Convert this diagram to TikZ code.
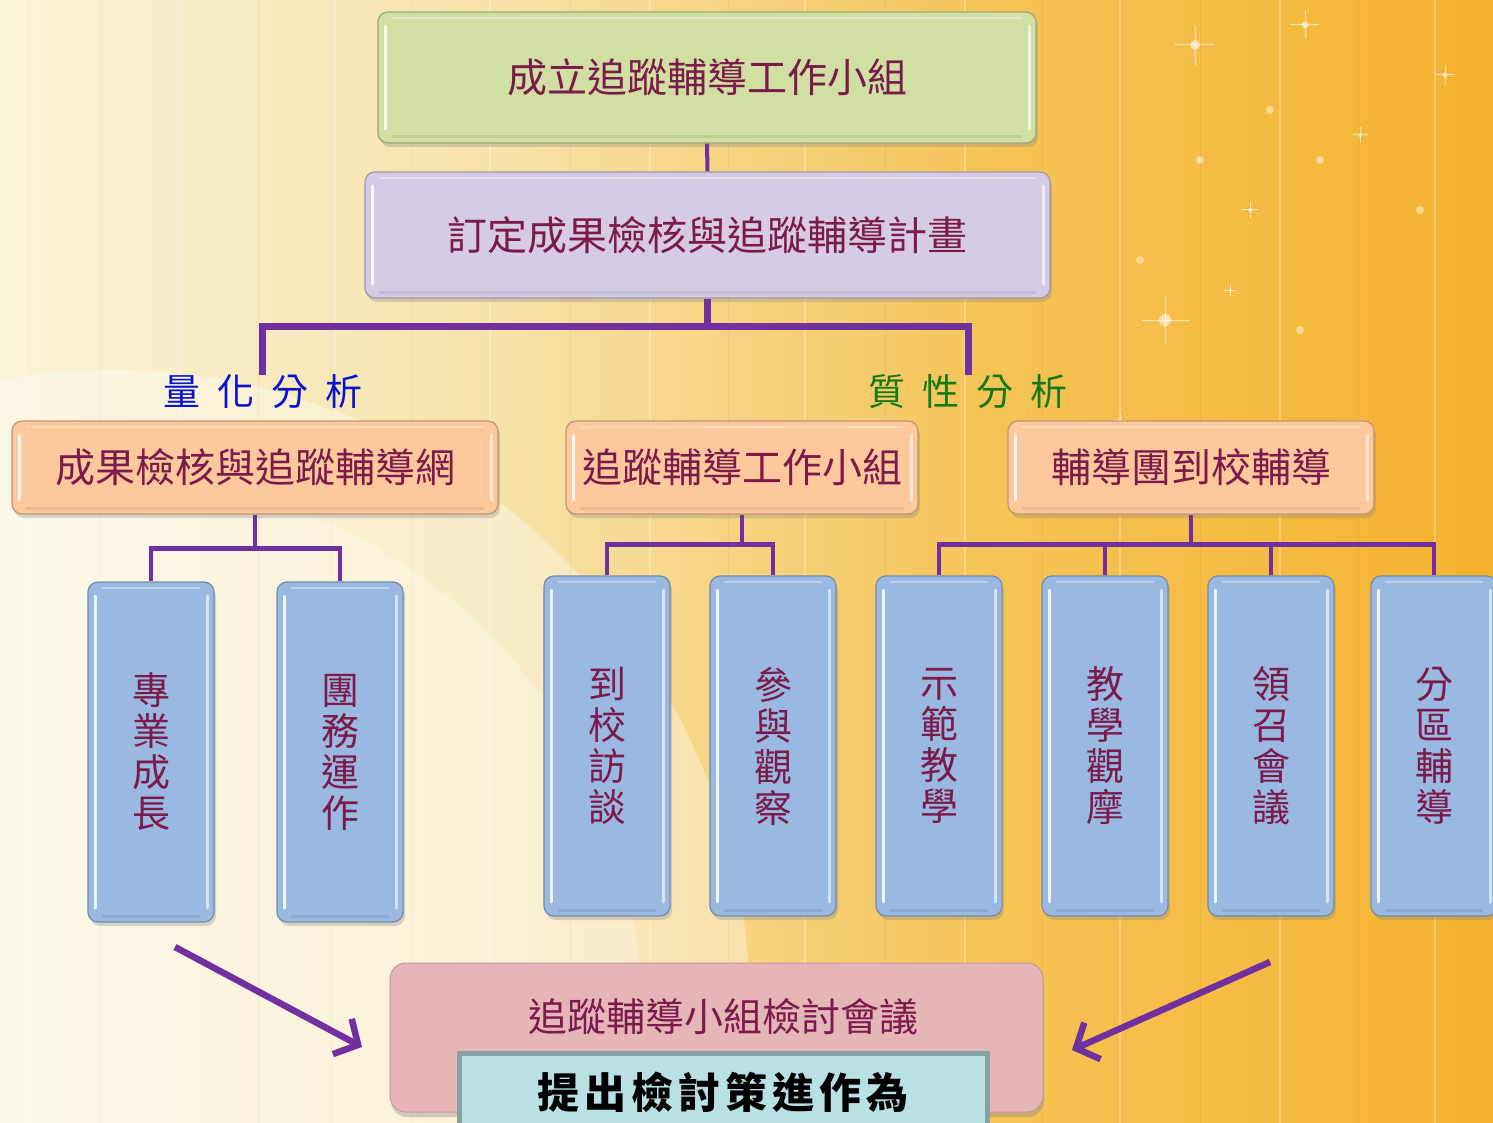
\documentclass[tikz,border=0pt]{standalone}
\usepackage{fontspec}
\newfontfamily\cjk{Noto Sans CJK TC}
\usetikzlibrary{arrows.meta,shadows}
\definecolor{bgA}{HTML}{FAF4D8}
\definecolor{bgB}{HTML}{F7E2A8}
\definecolor{bgC}{HTML}{F6C457}
\definecolor{bgD}{HTML}{F5B22E}
\definecolor{cgreen}{HTML}{CFE0A2}
\definecolor{cpurple}{HTML}{D6CBE4}
\definecolor{corange}{HTML}{FDC99C}
\definecolor{cblue}{HTML}{9AB9E0}
\definecolor{cpink}{HTML}{E6B5B7}
\definecolor{cteal}{HTML}{B9E0E3}
\definecolor{tealedge}{HTML}{86A2A4}
\definecolor{txt}{HTML}{7B1A4B}
\definecolor{lnc}{HTML}{7030A0}
\definecolor{qblue}{HTML}{0A14D0}
\definecolor{qgreen}{HTML}{127A12}
\pgfdeclarehorizontalshading{bgshade}{100bp}{color(0bp)=(bgA); color(25bp)=(bgA); color(42bp)=(bgB); color(58bp)=(bgC); color(75bp)=(bgD); color(100bp)=(bgD)}
\begin{document}
\begin{tikzpicture}[x=1pt,y=-1pt,
  bev/.style={path picture={
    \draw[white, opacity=0.85, line width=3pt, line cap=round]
      ([shift={(7pt,-14pt)}]path picture bounding box.north west) -- ([shift={(7pt,14pt)}]path picture bounding box.south west);
    \draw[white, opacity=0.6, line width=3pt, line cap=round]
      ([shift={(-7pt,-14pt)}]path picture bounding box.north east) -- ([shift={(-7pt,14pt)}]path picture bounding box.south east);
    \draw[white, opacity=0.35, line width=2pt]
      ([shift={(14pt,-6pt)}]path picture bounding box.north west) -- ([shift={(-14pt,-6pt)}]path picture bounding box.north east);
    \draw[black, opacity=0.08, line width=3pt]
      ([shift={(14pt,6pt)}]path picture bounding box.south west) -- ([shift={(-14pt,6pt)}]path picture bounding box.south east);
  }},
  box/.style={rounded corners=10pt, draw=#1!75!black, line width=1.2pt, fill=#1, bev,
    drop shadow={opacity=0.3, shadow xshift=2pt, shadow yshift=-4pt},
    text=txt, font=\cjk\fontsize{40}{44}\selectfont, inner sep=0pt},
  vbox/.style={box=cblue, minimum width=126pt, minimum height=340pt, align=center,
    font=\cjk\fontsize{38}{41}\selectfont},
  conn/.style={draw=lnc, line width=4.5pt},
  mainconn/.style={draw=lnc, line width=7pt},
  arr/.style={draw=lnc, line width=6.5pt, -{Straight Barb[length=18pt,width=40pt]}},
  lab/.style={font=\cjk\fontsize{37}{40}\selectfont, inner sep=0pt}
]
\useasboundingbox (0,0) rectangle (1493,1123);
% background
\shade[shading=bgshade] (0,0) rectangle (1493,1123);
\fill[white, opacity=0.35] (110,1010) circle (640pt);
\fill[white, opacity=0.25] (120,1000) circle (520pt);
\foreach \xx in {25,180,335,490,650,805,965,1120,1280,1435}
  \draw[white, opacity=0.28, line width=1.2pt] (\xx,0) -- (\xx,1123);
\foreach \xx in {100,258,412,570,728,885,1042,1200,1358}
  \draw[black, opacity=0.04, line width=1pt] (\xx,0) -- (\xx,1123);
% sparkles
\foreach \sx/\sy/\sr in {1195/45/20,1165/320/24,1305/25/14,1445/75/10,1250/210/8,1360/135/8,1120/420/6,1230/290/6}{
  \fill[white, opacity=0.55] (\sx,\sy) circle (\sr*0.25);
  \draw[white, opacity=0.7, line width=1pt] (\sx-\sr,\sy) -- (\sx+\sr,\sy) (\sx,\sy-\sr) -- (\sx,\sy+\sr);
}
\foreach \sx/\sy in {1270/110,1320/160,1200/160,1140/260,1420/210,1300/330}
  \fill[white, opacity=0.45] (\sx,\sy) circle (4pt);

% top boxes
\node[box=cgreen, minimum width=658pt, minimum height=131pt] (found) at (707,77.5) {成立追蹤輔導工作小組};
\node[box=cpurple, minimum width=685pt, minimum height=126pt] (plan) at (707.5,235) {訂定成果檢核與追蹤輔導計畫};
\draw[conn, line width=4pt] (found.south) -- (plan.north);

% analysis labels
\node[lab, text=qblue] (quant) at (263,392) {量\hspace{17pt}化\hspace{17pt}分\hspace{17pt}析};
\node[lab, text=qgreen] (qual) at (968,392) {質\hspace{17pt}性\hspace{17pt}分\hspace{17pt}析};
\coordinate (ql) at (262,375);
\coordinate (qr) at (968,375);
\draw[mainconn] (plan.south) -- ++(0,28) coordinate (jm);
\draw[mainconn] (ql) |- (jm) -| (qr);

% orange row
\node[box=corange, minimum width=486pt, minimum height=93pt] (net) at (255,467.5) {成果檢核與追蹤輔導網};
\node[box=corange, minimum width=352pt, minimum height=93pt] (team) at (742,467.5) {追蹤輔導工作小組};
\node[box=corange, minimum width=366pt, minimum height=93pt] (visit) at (1191,467.5) {輔導團到校輔導};

% blue vertical boxes
\node[vbox] (b1) at (151,752) {專\\業\\成\\長};
\node[vbox] (b2) at (340,752) {團\\務\\運\\作};
\node[vbox] (b3) at (607,746) {到\\校\\訪\\談};
\node[vbox] (b4) at (773,746) {參\\與\\觀\\察};
\node[vbox] (b5) at (939,746) {示\\範\\教\\學};
\node[vbox] (b6) at (1105,746) {教\\學\\觀\\摩};
\node[vbox] (b7) at (1271,746) {領\\召\\會\\議};
\node[vbox] (b8) at (1434,746) {分\\區\\輔\\導};

% connectors
\draw[conn] (net.south) -- ++(0,34) coordinate (ja);
\draw[conn] (b1.north) |- (ja) -| (b2.north);
\draw[conn] (team.south) -- ++(0,30) coordinate (jb);
\draw[conn] (b3.north) |- (jb) -| (b4.north);
\draw[conn] (visit.south) -- ++(0,30) coordinate (jc);
\draw[conn] (b5.north) |- (jc) -| (b8.north);
\draw[conn] (b6.north) -- (b6.north |- jc);
\draw[conn] (b7.north) -- (b7.north |- jc);

% bottom
\node[rounded corners=16pt, fill=cpink, draw=cpink!85!black, line width=1pt,
  drop shadow={opacity=0.35, shadow xshift=1pt, shadow yshift=-5pt},
  minimum width=653pt, minimum height=149pt] (meet) at (716.5,1037.5) {};
\node[text=txt, font=\cjk\fontsize{39}{42}\selectfont, inner sep=0pt] (meettxt) at (723,1017) {追蹤輔導小組檢討會議};
\node[fill=cteal, draw=tealedge, line width=5pt, minimum width=528pt, minimum height=100pt, anchor=north,
  font=\cjk\bfseries\fontsize{42}{46}\selectfont, text=black, text depth=0pt, yshift=0pt] (act) at (723.5,1050.5) {};
\node[font=\cjk\bfseries\fontsize{42}{46}\selectfont, text=black, inner sep=0pt] (acttxt) at (723,1092) {提\hspace{5pt}出\hspace{5pt}檢\hspace{5pt}討\hspace{5pt}策\hspace{5pt}進\hspace{5pt}作\hspace{5pt}為};

% arrows
\coordinate (a1s) at (175,947);
\coordinate (a1e) at (362,1047);
\coordinate (a2s) at (1270,962);
\coordinate (a2e) at (1072,1050);
\draw[arr] (a1s) -- (a1e);
\draw[arr] (a2s) -- (a2e);
\end{tikzpicture}
\end{document}
